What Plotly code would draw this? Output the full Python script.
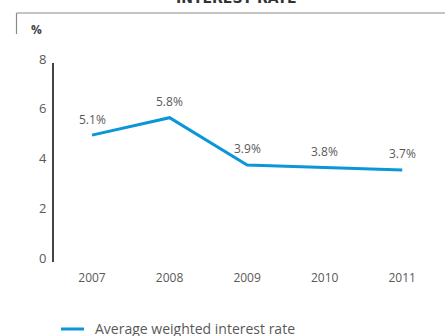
import plotly.graph_objects as go

years = ["2007", "2008", "2009", "2010", "2011"]
rates = [5.1, 5.8, 3.9, 3.8, 3.7]
series_name = "Average weighted interest rate"
title_text = "INTEREST RATE"
unit_text = "%"

W, H = 445, 336
ML, MR, MT, MB = 54, 4, 63, 74
PW, PH = W - ML - MR, H - MT - MB

def px_x(p):
    return (p - ML) / PW

def px_y(p):
    return (H - MB - p) / PH

FONT = "Open Sans"
TXT = "#595959"
BLUE = "#0a96d7"

xs = list(range(len(years)))

fig = go.Figure()
fig.add_trace(go.Scatter(
    x=xs, y=rates, mode="lines", name=series_name,
    line=dict(color=BLUE, width=3),
    hoverinfo="skip", showlegend=False,
))

for x, v in zip(xs, rates):
    fig.add_annotation(x=x, y=v, xref="x", yref="y", text=f"{v}%",
                       showarrow=False, yshift=16,
                       font=dict(family=FONT, size=12, color=TXT))

# cropped title
fig.add_annotation(x=px_x(236), y=px_y(7.5), xref="paper", yref="paper",
                   text=f"<b>{title_text}</b>", showarrow=False,
                   xanchor="center", yanchor="bottom",
                   font=dict(family="DejaVu Sans", size=14, color="#333333"))
# unit
fig.add_annotation(x=px_x(36), y=px_y(29.5), xref="paper", yref="paper",
                   text=f"<b>{unit_text}</b>", showarrow=False,
                   xanchor="center", yanchor="middle",
                   font=dict(family=FONT, size=12, color="#444444"))

# frame corner lines
fig.add_shape(type="line", xref="paper", yref="paper",
              x0=px_x(16.5), x1=px_x(446), y0=px_y(13), y1=px_y(13),
              line=dict(color="#8a8a8a", width=1.2))
fig.add_shape(type="line", xref="paper", yref="paper",
              x0=px_x(16.5), x1=px_x(16.5), y0=px_y(13), y1=px_y(34),
              line=dict(color="#8a8a8a", width=1.2))

# legend (drawn as key line + label)
fig.add_shape(type="line", xref="paper", yref="paper",
              x0=px_x(61), x1=px_x(84), y0=px_y(329), y1=px_y(329),
              line=dict(color=BLUE, width=3))
fig.add_annotation(x=px_x(93), y=px_y(328), xref="paper", yref="paper",
                   text=series_name, showarrow=False,
                   xanchor="left", yanchor="middle",
                   font=dict(family=FONT, size=14, color=TXT))

fig.update_layout(
    width=W, height=H,
    margin=dict(l=ML, r=MR, t=MT, b=MB, autoexpand=False),
    paper_bgcolor="white", plot_bgcolor="white",
    font=dict(family=FONT, color=TXT),
    showlegend=False,
    xaxis=dict(
        range=[-0.49, 4.5], tickmode="array", tickvals=xs, ticktext=years,
        showline=False, showgrid=False, zeroline=False, ticks="",
        tickfont=dict(family=FONT, size=12, color=TXT),
        ticklabelstandoff=7, fixedrange=True,
    ),
    yaxis=dict(
        range=[0, 8], dtick=2, showline=True, linecolor="#444444", linewidth=2,
        showgrid=False, zeroline=False, ticks="",
        tickfont=dict(family=FONT, size=13, color=TXT),
        ticklabelshift=-4, ticklabelstandoff=3, fixedrange=True,
    ),
)

fig.write_html("out.html", config={"displayModeBar": False, "staticPlot": True},
               post_script="document.body.style.margin='0px';document.body.style.overflow='hidden';")
